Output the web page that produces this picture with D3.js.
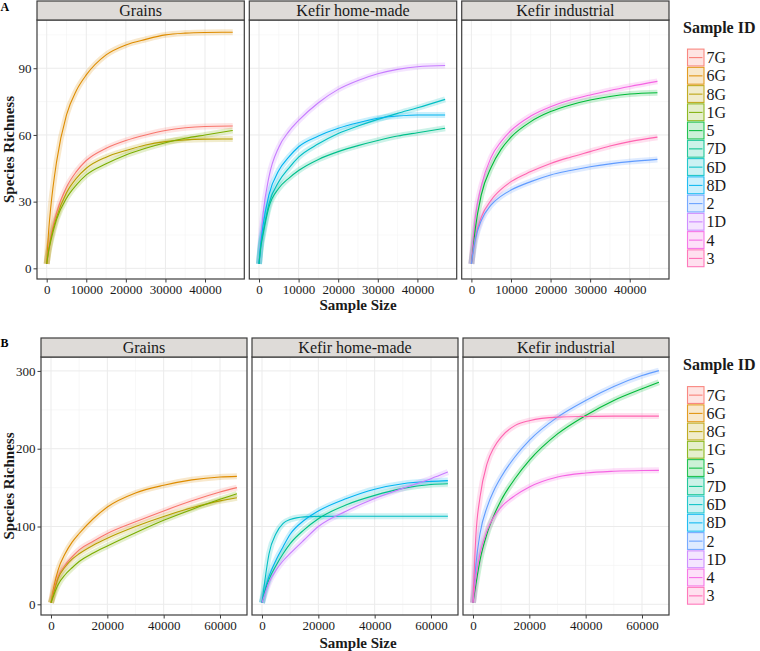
<!DOCTYPE html>
<html>
<head>
<meta charset="utf-8">
<script src="https://cdn.jsdelivr.net/npm/d3@7/dist/d3.min.js"></script>
<style>
  html, body { margin: 0; padding: 0; background: #fff; }
  svg { display: block; }
  text { font-family: "Liberation Serif", "DejaVu Serif", serif; }
</style>
</head>
<body>
<svg id="chart" width="760" height="651"></svg>
<script>
// ---------- DATA ----------
const sampleIds = ["7G", "6G", "8G", "1G", "5", "7D", "6D", "8D", "2", "1D", "4", "3"];
const palette = ["#F8766D", "#DE8C00", "#B79F00", "#7CAE00", "#00BA38", "#00C08B",
                 "#00BFC4", "#00B4F0", "#619CFF", "#C77CFF", "#F564E3", "#FF64B0"];
const facets = ["Grains", "Kefir home-made", "Kefir industrial"];

// Panel A (sample size values)
const depthA = [0, 500, 1000, 2500, 5000, 7500, 10000, 15000, 20000, 25000, 30000, 35000, 40000, 47000];
const A_6G = [2, 17, 27, 48, 69, 80, 87, 96, 100.5, 103, 105, 105.8, 106.1, 106.2];
const A_7G = [2, 9, 14, 25, 36.5, 43.5, 48.5, 54, 57.5, 60, 62, 63.2, 63.8, 64];
const A_8G = [2, 8, 13, 23, 34, 40.5, 45, 50, 53, 55.5, 57, 57.8, 58.1, 58.2];
const A_1G = [2, 8, 12, 22, 31.5, 37.5, 42, 47, 51, 54, 56.5, 58.5, 60, 62];
const A_1D = [2, 14, 24, 41, 54.5, 61.5, 66.5, 74.5, 80.5, 84.5, 87.5, 89.5, 90.7, 91.2];
const A_6D = [2, 11, 16, 29, 39, 45, 50, 56, 60.7, 64, 67, 69.7, 72.2, 76];
const A_8D = [2, 12, 19, 33, 44, 50, 54.7, 59.5, 63, 65.5, 67.5, 68.5, 69, 69];
const A_7D = [2, 10, 15, 27.5, 36, 40.5, 44, 49, 52.5, 55.2, 57.5, 59.5, 61, 63];
const A_4 = [2, 14, 23, 37, 50, 57, 62, 68.5, 72.7, 75.7, 78, 80, 81.8, 84.1];
const A_5 = [2, 10, 18, 33, 45.5, 53.5, 59, 66, 70.5, 73.5, 75.7, 77.3, 78.4, 79];
const A_3 = [2, 9, 14, 23, 30.7, 35.5, 39, 43.5, 47.2, 50, 52.5, 55, 57, 59];
const A_2 = [2, 8, 13, 21.5, 28.5, 32.5, 35.2, 39, 42, 44, 45.7, 47, 48, 49];

// Panel B (sample size values)
const depthB = [0, 1000, 2500, 5000, 7500, 10000, 15000, 20000, 30000, 40000, 50000, 60000, 66000];
const B_6G = [2, 22, 44, 65, 80, 91, 110, 125, 143, 153, 160, 163.7, 164.5];
const B_7G = [2, 18, 35.5, 50.4, 61, 70, 81, 91, 106, 120, 133, 144.4, 150];
const B_8G = [2, 15, 33, 48, 58, 65, 76, 85, 100, 113, 124, 133, 137];
const B_1G = [2, 12, 25, 38, 47, 55, 66, 75, 92, 108, 122, 135, 142];
const B_6D = [2, 30, 65, 91, 104, 109, 112.4, 113, 113.2, 113.2, 113.2, 113.2, 113.2];
const B_8D = [2, 18, 36, 57, 74, 90, 108, 120, 136, 148, 155, 158, 159];
const B_7D = [2, 16, 32, 50, 65, 78, 96, 110, 128, 140, 149, 154, 155];
const B_1D = [2, 13, 28, 44, 56, 65.4, 83, 100, 120, 136, 149, 161.5, 170];
const B_2 = [2, 50, 91, 125, 147, 163.7, 190, 210.7, 240.6, 262, 280, 294, 300.4];
const B_5 = [2, 25, 56.8, 91, 115, 133.8, 162, 185, 219, 242.7, 262, 277, 285.5];
const B_3 = [2, 86.8, 138, 180.8, 202, 215, 230, 236, 240.6, 241.5, 241.9, 241.9, 241.9];
const B_4 = [2, 35, 65, 95, 113, 125, 140, 150.9, 163.7, 168.8, 171, 172, 172.2];

// Tick values
const xTicksA = [0, 10000, 20000, 30000, 40000];
const xMinorA = [5000, 15000, 25000, 35000, 45000];
const yTicksA = [0, 30, 60, 90];
const yMinorA = [15, 45, 75, 105];
const xTicksB = [0, 20000, 40000, 60000];
const xMinorB = [10000, 30000, 50000];
const yTicksB = [0, 100, 200, 300];
const yMinorB = [50, 150, 250];

// ---------- BUILD ----------
const seriesA = [
  [0, "6G", A_6G], [0, "7G", A_7G], [0, "8G", A_8G], [0, "1G", A_1G],
  [1, "1D", A_1D], [1, "6D", A_6D], [1, "8D", A_8D], [1, "7D", A_7D],
  [2, "4", A_4], [2, "5", A_5], [2, "3", A_3], [2, "2", A_2]
];
const seriesB = [
  [0, "6G", B_6G], [0, "7G", B_7G], [0, "8G", B_8G], [0, "1G", B_1G],
  [1, "6D", B_6D], [1, "8D", B_8D], [1, "7D", B_7D], [1, "1D", B_1D],
  [2, "2", B_2], [2, "5", B_5], [2, "3", B_3], [2, "4", B_4]
];

const color = d3.scaleOrdinal().domain(sampleIds).range(palette);
const svg = d3.select("#chart");
svg.append("rect").attr("width", 760).attr("height", 651).attr("fill", "#fff");

const BORDER = "#3d3d3d";
const TXT = "#1a1a1a";

function drawRow(cfg) {
  const g = svg.append("g");
  cfg.panels.forEach((px, i) => {
    const x = d3.scaleLinear().domain(cfg.xDomain).range(px);
    const y = d3.scaleLinear().domain(cfg.yDomain).range([cfg.plotBottom, cfg.plotTop]);
    const pg = g.append("g");

    // plot background
    pg.append("rect").attr("x", px[0]).attr("y", cfg.plotTop)
      .attr("width", px[1] - px[0]).attr("height", cfg.plotBottom - cfg.plotTop)
      .attr("fill", "#fff");

    // minor grid
    pg.selectAll(".mgx").data(cfg.xMinor.filter(v => x(v) < px[1])).enter().append("line")
      .attr("x1", d => x(d)).attr("x2", d => x(d))
      .attr("y1", cfg.plotTop).attr("y2", cfg.plotBottom)
      .attr("stroke", "#f4f4f4").attr("stroke-width", 0.6);
    pg.selectAll(".mgy").data(cfg.yMinor).enter().append("line")
      .attr("y1", d => y(d)).attr("y2", d => y(d))
      .attr("x1", px[0]).attr("x2", px[1])
      .attr("stroke", "#f4f4f4").attr("stroke-width", 0.6);
    // major grid
    pg.selectAll(".gx").data(cfg.xTicks).enter().append("line")
      .attr("x1", d => x(d)).attr("x2", d => x(d))
      .attr("y1", cfg.plotTop).attr("y2", cfg.plotBottom)
      .attr("stroke", "#ebebeb").attr("stroke-width", 1);
    pg.selectAll(".gy").data(cfg.yTicks).enter().append("line")
      .attr("y1", d => y(d)).attr("y2", d => y(d))
      .attr("x1", px[0]).attr("x2", px[1])
      .attr("stroke", "#ebebeb").attr("stroke-width", 1);

    // curves
    const line = d3.line()
      .x((d, k) => x(cfg.depth[k]))
      .y(d => y(d))
      .curve(d3.curveMonotoneX);
    const ser = cfg.series.filter(s => s[0] === i);
    ser.forEach(s => {
      pg.append("path").attr("d", line(s[2]))
        .attr("fill", "none").attr("stroke", color(s[1]))
        .attr("stroke-width", 6).attr("stroke-opacity", 0.2)
        .attr("stroke-linejoin", "round");
    });
    ser.forEach(s => {
      pg.append("path").attr("d", line(s[2]))
        .attr("fill", "none").attr("stroke", color(s[1]))
        .attr("stroke-width", 1.1);
    });

    // panel border
    pg.append("rect").attr("x", px[0]).attr("y", cfg.plotTop)
      .attr("width", px[1] - px[0]).attr("height", cfg.plotBottom - cfg.plotTop)
      .attr("fill", "none").attr("stroke", BORDER).attr("stroke-width", 1.2);

    // strip
    pg.append("rect").attr("x", px[0]).attr("y", cfg.stripTop)
      .attr("width", px[1] - px[0]).attr("height", cfg.plotTop - cfg.stripTop)
      .attr("fill", "#dedbd8").attr("stroke", BORDER).attr("stroke-width", 1.2);
    pg.append("text").attr("x", (px[0] + px[1]) / 2).attr("y", cfg.plotTop - 4.5)
      .attr("text-anchor", "middle").attr("font-size", 16).attr("fill", TXT)
      .text(facets[i]);

    // x axis
    const xa = pg.append("g").attr("transform", `translate(0,${cfg.plotBottom})`)
      .call(d3.axisBottom(x).tickValues(cfg.xTicks).tickSize(3.5).tickPadding(2).tickFormat(d3.format("d")));
    xa.select(".domain").remove();
    xa.selectAll("line").attr("stroke", BORDER);
    xa.selectAll("text").attr("font-size", 13).attr("fill", TXT)
      .attr("font-family", "Liberation Serif, serif");

    if (i === 0) {
      const ya = pg.append("g").attr("transform", `translate(${px[0]},0)`)
        .call(d3.axisLeft(y).tickValues(cfg.yTicks).tickSize(3.5).tickPadding(2).tickFormat(d3.format("d")));
      ya.select(".domain").remove();
      ya.selectAll("line").attr("stroke", BORDER);
      ya.selectAll("text").attr("font-size", 13).attr("fill", TXT)
        .attr("font-family", "Liberation Serif, serif");
    }
  });

  // axis titles
  g.append("text").attr("x", cfg.xTitleX).attr("y", cfg.xTitleY)
    .attr("text-anchor", "middle").attr("font-size", 15).attr("font-weight", "bold")
    .attr("fill", TXT).text("Sample Size");
  g.append("text")
    .attr("transform", `translate(14,${(cfg.plotTop + cfg.plotBottom) / 2}) rotate(-90)`)
    .attr("text-anchor", "middle").attr("font-size", 15).attr("font-weight", "bold")
    .attr("fill", TXT).text("Species Richness");

  // panel letter
  g.append("text").attr("x", 0.5).attr("y", cfg.letterY)
    .attr("font-family", "Liberation Sans, Arial, sans-serif")
    .attr("font-size", 12).attr("font-weight", "bold").attr("fill", "#000")
    .text(cfg.letter);

  // legend
  const lg = g.append("g");
  lg.append("text").attr("x", 683).attr("y", cfg.legendTitleY)
    .attr("font-size", 16).attr("font-weight", "bold").attr("fill", TXT)
    .text("Sample ID");
  const step = 18.25;
  sampleIds.forEach((id, k) => {
    const ky = cfg.legendTop + k * step;
    lg.append("rect").attr("x", 687.5).attr("y", ky + 0.6)
      .attr("width", 16.5).attr("height", step - 1.4)
      .attr("fill", color(id)).attr("fill-opacity", 0.2)
      .attr("stroke", color(id)).attr("stroke-opacity", 0.85).attr("stroke-width", 1.1);
    lg.append("line").attr("x1", 689).attr("x2", 702.5)
      .attr("y1", ky + step / 2).attr("y2", ky + step / 2)
      .attr("stroke", color(id)).attr("stroke-width", 1);
    lg.append("text").attr("x", 706.5).attr("y", ky + step / 2 + 5.5)
      .attr("font-size", 16).attr("fill", TXT).text(id);
  });
}

drawRow({
  letter: "A", letterY: 10.5,
  panels: [[37, 244.3], [249.3, 456.7], [461.7, 669]],
  stripTop: 1, plotTop: 20, plotBottom: 279,
  xDomain: [-2450, 49924], yDomain: [-4.8, 111.7],
  depth: depthA, series: seriesA,
  xTicks: xTicksA, xMinor: xMinorA, yTicks: yTicksA, yMinor: yMinorA,
  xTitleX: 358, xTitleY: 310,
  legendTitleY: 33, legendTop: 48.5
});

drawRow({
  letter: "B", letterY: 347,
  panels: [[41, 247], [252, 458], [463, 669]],
  stripTop: 338, plotTop: 357, plotBottom: 615,
  xDomain: [-3550, 69586], yDomain: [-13.75, 317.9],
  depth: depthB, series: seriesB,
  xTicks: xTicksB, xMinor: xMinorB, yTicks: yTicksB, yMinor: yMinorB,
  xTitleX: 358, xTitleY: 648,
  legendTitleY: 370, legendTop: 386
});
</script>
</body>
</html>
